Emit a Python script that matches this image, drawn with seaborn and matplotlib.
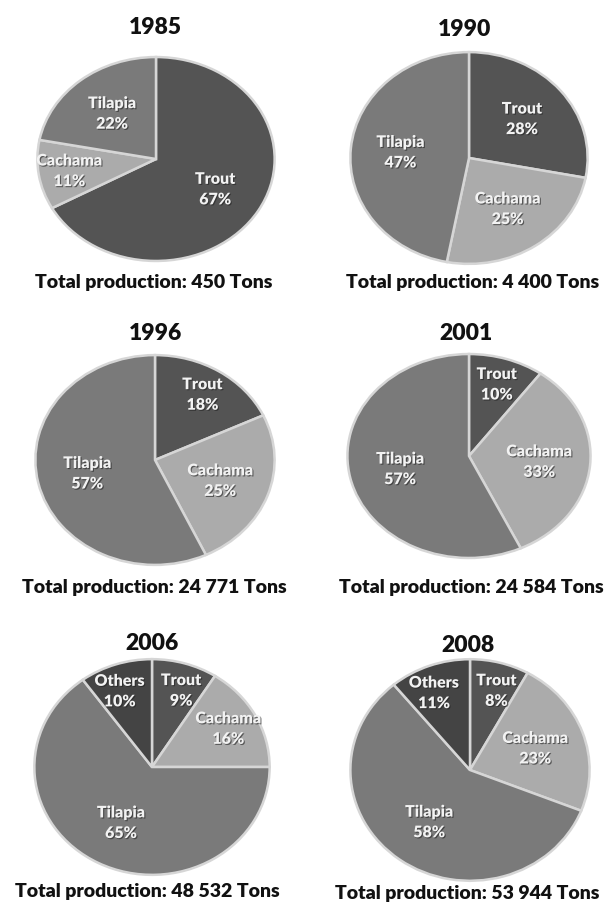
import matplotlib
matplotlib.use("Agg")
import matplotlib.pyplot as plt
import matplotlib.patheffects as pe
import seaborn as sns
import numpy as np

# ---- data ----
years = ["1985", "1990", "1996", "2001", "2006", "2008"]
totals = ["450", "4 400", "24 771", "24 584", "48 532", "53 944"]
species = ["Trout", "Cachama", "Tilapia", "Others"]
trout = [67, 28, 18, 10, 9, 8]
cachama = [11, 25, 25, 33, 16, 23]
tilapia = [22, 47, 57, 57, 65, 58]
others = [0, 0, 0, 0, 10, 11]

sns.set_theme(style="white")
plt.rcParams["font.family"] = ["Lato", "DejaVu Sans"]

colors = {"Trout": "#545454", "Cachama": "#ababab", "Tilapia": "#7a7a7a", "Others": "#444444"}

W, H = 610, 906
fig = plt.figure(figsize=(W / 100, H / 100), dpi=100)
fig.patch.set_facecolor("white")

# layout in pixels: pie centre, radii, title pos, subtitle pos
layout = [
    dict(c=(156, 159), r=(121, 104), t=(155, 28), s=(154, 283)),
    dict(c=(469, 158), r=(121, 108), t=(465, 30), s=(473, 283)),
    dict(c=(155, 460), r=(122, 107), t=(155, 333), s=(154, 587)),
    dict(c=(469, 456), r=(124, 104), t=(466, 333), s=(471, 588)),
    dict(c=(152, 767), r=(120, 110), t=(152, 643), s=(147, 891)),
    dict(c=(470, 770), r=(122, 113), t=(468, 645), s=(467, 893)),
]

shadow = [pe.withSimplePatchShadow(offset=(0.8, -0.8), shadow_rgbFace="#222222", alpha=0.6)]

for i, year in enumerate(years):
    vals = [trout[i], cachama[i], tilapia[i], others[i]]
    names = [n for n, v in zip(species, vals) if v > 0]
    vals = [v for v in vals if v > 0]
    L = layout[i]
    (cx, cy), (rx, ry) = L["c"], L["r"]
    ax = fig.add_axes([(cx - rx) / W, 1 - (cy + ry) / H, 2 * rx / W, 2 * ry / H])
    wedges, _ = ax.pie(vals, colors=[colors[n] for n in names], startangle=90,
                       counterclock=False,
                       wedgeprops=dict(edgecolor="#d6d6d6", linewidth=1.8))
    ax.set_aspect("auto")
    ax.set_xlim(-1.02, 1.02)
    ax.set_ylim(-1.02, 1.02)
    ax.axis("off")
    for w, n, v in zip(wedges, names, vals):
        mid = np.deg2rad((w.theta1 + w.theta2) / 2)
        d = 0.58 if v >= 20 else 0.74
        x, y = d * np.cos(mid), d * np.sin(mid)
        if "Others" in names and n in ("Trout", "Others"):
            x *= 1.2
        ax.text(x, y, f"{n}\n{v}%", ha="center", va="center",
                color="#f2f2f2", fontsize=11.5, fontweight="heavy", linespacing=1.35,
                path_effects=shadow)
    fig.text(L["t"][0] / W, 1 - L["t"][1] / H, year, ha="center", va="center",
             fontsize=16.5, fontweight="heavy", color="#111111")
    fig.text(L["s"][0] / W, 1 - L["s"][1] / H, f"Total production: {totals[i]} Tons",
             ha="center", va="center", fontsize=14, fontweight="heavy", color="#111111")

fig.savefig("out.png", dpi=100, facecolor="white")
